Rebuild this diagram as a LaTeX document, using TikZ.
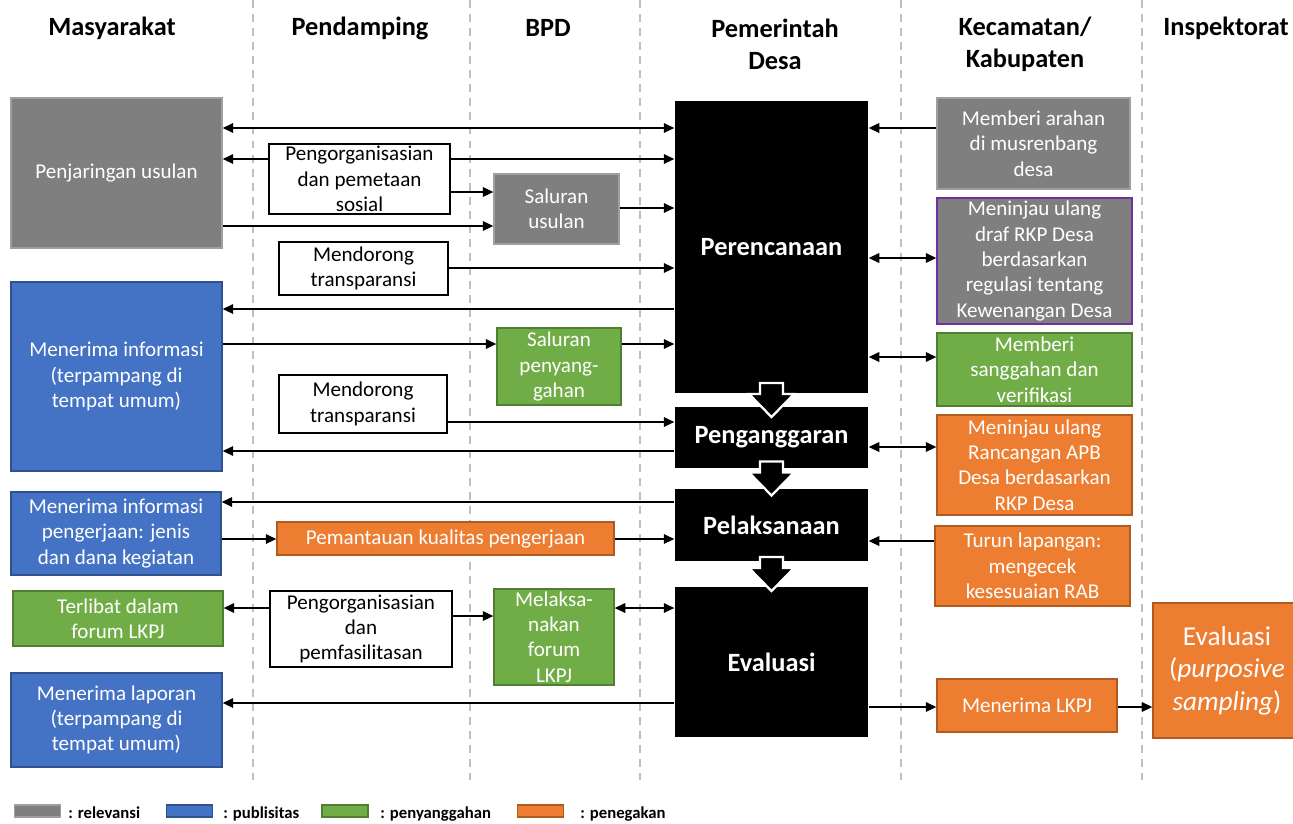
\documentclass[tikz,border=0pt]{standalone}
\usepackage{fontspec}
\setmainfont{Carlito}
\usetikzlibrary{arrows.meta,calc,positioning}
\definecolor{RelGray}{HTML}{7F7F7F}
\definecolor{PubBlue}{HTML}{4472C4}
\definecolor{PubBlueDark}{HTML}{2F528F}
\definecolor{PenGreen}{HTML}{70AD47}
\definecolor{PenGreenDark}{HTML}{507E32}
\definecolor{NegOrange}{HTML}{ED7D31}
\definecolor{NegOrangeDark}{HTML}{AE5A21}
\definecolor{RevPurple}{HTML}{7030A0}
\definecolor{LaneGray}{HTML}{BFBFBF}

\begin{document}
\begin{tikzpicture}[x=0.02cm,y=-0.02cm,
      box/.style={rectangle,inner sep=0pt,align=center,line width=0.8pt,
                  font=\fontsize{12}{14.4}\selectfont},
      wh/.style 2 args={minimum width=#1*0.02cm,minimum height=#2*0.02cm},
      rel/.style={box,fill=RelGray,draw=RelGray!75!white,text=white},
      pub/.style={box,fill=PubBlue,draw=PubBlueDark,text=white},
      peny/.style={box,fill=PenGreen,draw=PenGreenDark,text=white},
      peneg/.style={box,fill=NegOrange,draw=NegOrangeDark,text=white},
      textbox/.style={box,draw=black,line width=1pt,fill=white},
      phase/.style={box,fill=black,text=white,font=\bfseries\fontsize{15}{18}\selectfont},
      colhead/.style={align=center,inner sep=0pt,font=\bfseries\fontsize{15}{18.2}\selectfont},
      lane/.style={draw=LaneGray,line width=1pt,dash pattern=on 4.5pt off 3.5pt},
      go/.style={-{Triangle[length=6pt,width=5.5pt]},line width=0.7pt},
      both/.style={{Triangle[length=6pt,width=5.5pt]}-{Triangle[length=6pt,width=5.5pt]},line width=0.7pt},
      bigarrow/.style={fill=black,draw=white,line width=1.3pt,line join=miter},
      legend/.style={rectangle,inner sep=0pt,minimum width=46*0.02cm,minimum height=12*0.02cm,line width=0.8pt},
      legtext/.style={anchor=base west,inner sep=0pt,font=\bfseries\fontsize{9.5}{11}\selectfont}]
    \useasboundingbox (0,0) rectangle (1293,823);
    % swimlanes
    \foreach \x in {253,470,640,901,1142} \draw[lane] (\x,0) -- (\x,780);
    \node[colhead] (mas)  at (112,28)  {Masyarakat};
    \node[colhead] (pend) at (360,28)  {Pendamping};
    \node[colhead] (bpd)  at (548,28)  {BPD};
    \node[colhead] (pem)  at (775,44)  {Pemerintah\\Desa};
    \node[colhead] (kec)  at (1025,44) {Kecamatan/\\Kabupaten};
    \node[colhead] (insp) at (1226,28) {Inspektorat};

    % phases
    \node[phase,wh={193}{292}] (renc) at (771.5,247)   {Perencanaan};
    \node[phase,wh={193}{61}]  (angg) at (771.5,437.5) {Penganggaran};
    \node[phase,wh={193}{72}]  (laks) at (771.5,525)   {Pelaksanaan};
    \node[phase,wh={193}{150}] (eval) at (771.5,662)   {Evaluasi};
    \foreach \a/\b in {renc/angg,angg/laks,laks/eval}
      \draw[bigarrow] ($(\a.south)!.5!(\b.north)$) ++(-11.5,-17) -- ++(23,0) -- ++(0,11)
        -- ++(11,0) -- ++(-22.5,23) -- ++(-22.5,-23) -- ++(11,0) -- cycle;

    % masyarakat
    \node[rel,wh={211}{150}]  (pu)       at (116.5,173) {Penjaringan usulan};
    \node[pub,wh={211}{189}]  (info1)    at (116.5,376.5) {Menerima informasi\\(terpampang di\\tempat umum)};
    \node[pub,wh={210}{83}]   (info2)    at (116,533.5) {Menerima informasi\\pengerjaan: jenis\\dan dana kegiatan};
    \node[peny,wh={210}{55}]  (terlibat) at (118,618.5) {Terlibat dalam\\forum LKPJ};
    \node[pub,wh={211}{94}]   (laporan)  at (116.5,720) {Menerima laporan\\(terpampang di\\tempat umum)};

    % pendamping
    \node[textbox,wh={181}{70}]  (org1)    at (359.5,179) {Pengorganisasian\\dan pemetaan\\sosial};
    \node[textbox,wh={169}{53}]  (dorong1) at (363.5,268.5) {Mendorong\\transparansi};
    \node[textbox,wh={168}{58}]  (dorong2) at (363,404) {Mendorong\\transparansi};
    \node[peneg,wh={337}{33}]    (pantau)  at (445.5,538.5) {Pemantauan kualitas pengerjaan};
    \node[textbox,wh={182}{76}]  (org2)    at (361,629) {Pengorganisasian\\dan\\pemfasilitasan};

    % BPD
    \node[rel,wh={125}{70}]   (salus)   at (556.5,209) {Saluran\\usulan};
    \node[peny,wh={124}{77}]  (salpeny) at (559,366.5) {Saluran\\penyang-\\gahan};
    \node[peny,wh={120}{96}]  (forum)   at (554,637) {Melaksa-\\nakan\\forum\\LKPJ};

    % kecamatan / kabupaten
    \node[rel,wh={193}{91}]   (arahan)  at (1033.5,143.5) {Memberi arahan\\di musrenbang\\desa};
    \node[rel,draw=RevPurple,wh={195}{126}] (draf) at (1034.5,261) {Meninjau ulang\\draf RKP Desa\\berdasarkan\\regulasi tentang\\Kewenangan Desa};
    \node[peny,wh={195}{73}]  (sanggah) at (1034.5,369.5) {Memberi\\sanggahan dan\\verifikasi};
    \node[peneg,wh={195}{100}] (apb)    at (1034.5,465) {Meninjau ulang\\Rancangan APB\\Desa berdasarkan\\RKP Desa};
    \node[peneg,wh={195}{80}] (turun)   at (1032.5,566) {Turun lapangan:\\mengecek\\kesesuaian RAB};
    \node[peneg,wh={180}{53}] (lkpj)    at (1027,705.5) {Menerima LKPJ};

    % inspektorat
    \node[peneg,wh={148}{135},font=\fontsize{15.5}{18.5}\selectfont] (sampling) at (1227,670.5)
      {Evaluasi\\(\textit{purposive}\\\textit{sampling})};

    % flows
    \draw[both] (renc.west |- 0,128) -- (pu.east |- 0,128);
    \draw[go] (org1.west |- 0,159) -- (pu.east |- 0,159);
    \draw[go] (org1.east |- 0,159) -- (renc.west |- 0,159);
    \draw[go] (org1.east |- 0,192) -- (salus.west |- 0,192);
    \draw[go] (pu.east |- 0,226) -- (salus.west |- 0,226);
    \draw[go] (salus.east |- 0,208) -- (renc.west |- 0,208);
    \draw[go] (dorong1.east |- 0,268) -- (renc.west |- 0,268);
    \draw[go] (renc.west |- 0,309) -- (info1.east |- 0,309);
    \draw[go] (info1.east |- 0,344) -- (salpeny.west |- 0,344);
    \draw[go] (salpeny.east |- 0,344) -- (renc.west |- 0,344);
    \draw[go] (dorong2.east |- 0,422) -- (angg.west |- 0,422);
    \draw[go] (angg.west |- 0,451) -- (info1.east |- 0,451);
    \draw[go] (laks.west |- 0,502) -- (info2.east |- 0,502);
    \draw[go] (info2.east |- 0,539) -- (pantau.west |- 0,539);
    \draw[go] (pantau.east |- 0,539) -- (laks.west |- 0,539);
    \draw[go] (org2.west |- 0,608) -- (terlibat.east |- 0,608);
    \draw[go] (org2.east |- 0,616) -- (forum.west |- 0,616);
    \draw[both] (forum.east |- 0,608) -- (eval.west |- 0,608);
    \draw[go] (eval.west |- 0,703) -- (laporan.east |- 0,703);
    \draw[go] (eval.east |- 0,707) -- (lkpj.west |- 0,707);
    \draw[go] (lkpj.east |- 0,707) -- (sampling.west |- 0,707);
    \draw[go] (arahan.west |- 0,128) -- (renc.east |- 0,128);
    \draw[both] (renc.east |- 0,258) -- (draf.west |- 0,258);
    \draw[both] (renc.east |- 0,357) -- (sanggah.west |- 0,357);
    \draw[both] (angg.east |- 0,447) -- (apb.west |- 0,447);
    \draw[go] (turun.west |- 0,541) -- (laks.east |- 0,541);

    % legend
    \node[legend,fill=RelGray,draw=RelGray!75!white]      (lg1) at (37.5,811) {};
    \node[legend,fill=PubBlue,draw=PubBlueDark]           (lg2) at (189.5,811) {};
    \node[legend,fill=PenGreen,draw=PenGreenDark]         (lg3) at (345,811) {};
    \node[legend,fill=NegOrange,draw=NegOrangeDark]       (lg4) at (540.5,811) {};
    \node[legtext] (lt1) at (68,818)  {: relevansi};
    \node[legtext] (lt2) at (223,818) {: publisitas};
    \node[legtext] (lt3) at (380,818) {: penyanggahan};
    \node[legtext] (lt4) at (580,818) {: penegakan};
  \end{tikzpicture}
\end{document}
